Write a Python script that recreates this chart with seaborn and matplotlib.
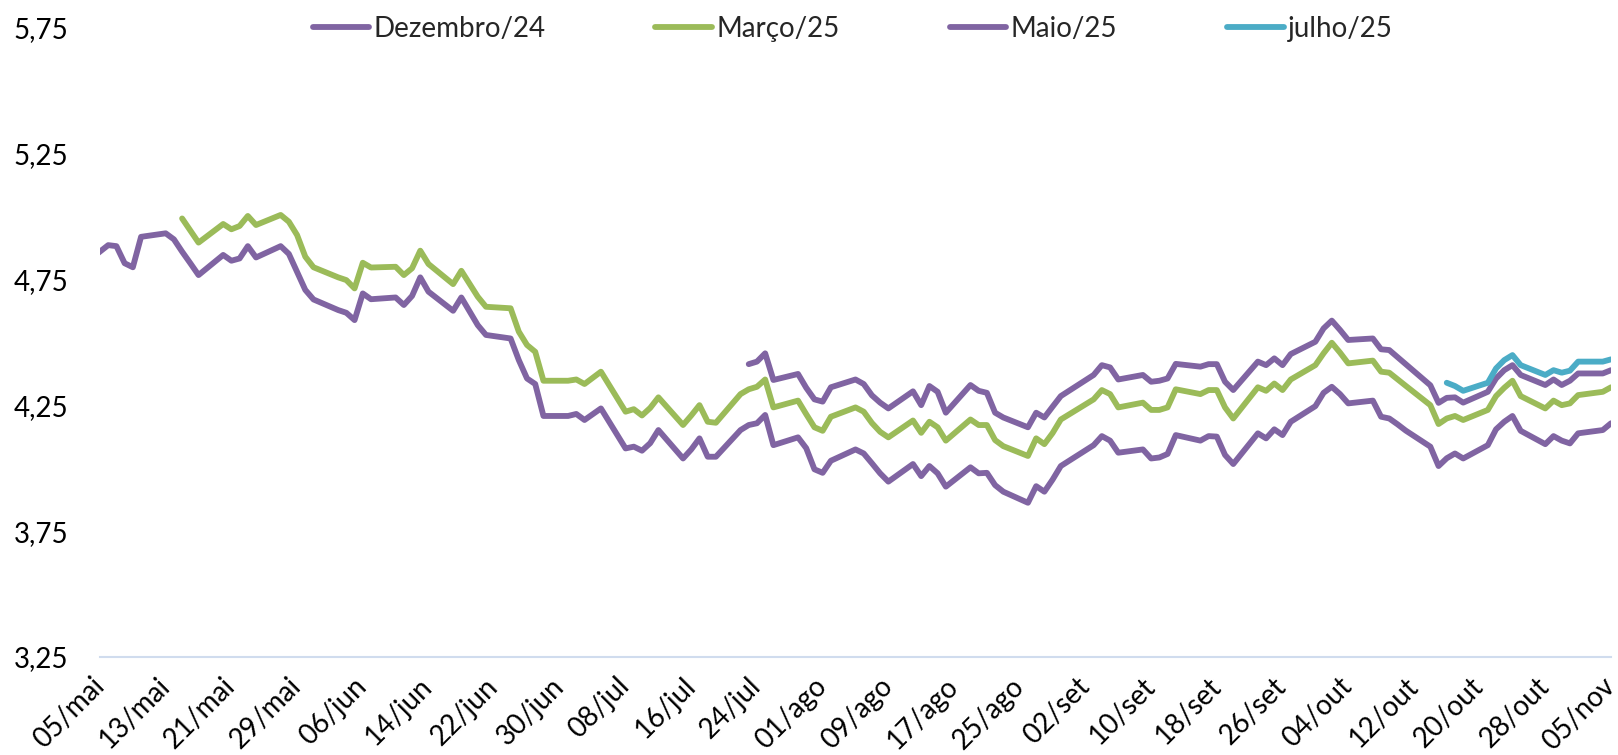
import numpy as np
import pandas as pd
import matplotlib
matplotlib.use("Agg")
import matplotlib.pyplot as plt
import seaborn as sns

# ---- data -------------------------------------------------------------
holidays = ["2024-06-19", "2024-07-04", "2024-09-02"]
first_day = "2024-05-03"

series_names = ["Dezembro/24", "Março/25", "Maio/25", "julho/25"]
series_colors = ["#8064A2", "#9BBB59", "#8064A2", "#4BACC6"]

dezembro_24 = [
    4.81,
    4.887, 4.883, 4.815, 4.799, 4.920,
    4.934, 4.910, 4.861, 4.815, 4.768,
    4.848, 4.825, 4.834, 4.883, 4.838,
    4.883, 4.852, 4.781, 4.709, 4.671,
    4.629, 4.618, 4.589, 4.695, 4.672,
    4.679, 4.649, 4.685, 4.759, 4.702,
    4.626, 4.679, 4.569, 4.530,
    4.516, 4.430, 4.357, 4.335, 4.208,
    4.208, 4.216, 4.192, 4.238,
    4.079, 4.086, 4.070, 4.100, 4.152,
    4.039, 4.075, 4.119, 4.046, 4.046,
    4.152, 4.172, 4.179, 4.212, 4.092,
    4.123, 4.080, 3.996, 3.982, 4.030,
    4.075, 4.059, 4.020, 3.980, 3.947,
    4.017, 3.969, 4.009, 3.980, 3.927,
    4.004, 3.980, 3.982, 3.933, 3.907,
    3.863, 3.929, 3.907, 3.955, 4.009,
    4.092, 4.128, 4.110, 4.062,
    4.075, 4.039, 4.043, 4.057, 4.132,
    4.110, 4.128, 4.126, 4.053, 4.017,
    4.139, 4.119, 4.155, 4.132, 4.185,
    4.247, 4.300, 4.324, 4.295, 4.258,
    4.269, 4.205, 4.198, 4.175, 4.150,
    4.086, 4.009, 4.040, 4.059, 4.039,
    4.092, 4.155, 4.185, 4.208, 4.149,
    4.096, 4.128, 4.110, 4.099, 4.139,
    4.152, 4.179,
]

marco_25 = [
    4.993, 4.945, 4.897,
    4.971, 4.950, 4.963, 5.003, 4.967,
    5.007, 4.980, 4.927, 4.841, 4.799,
    4.759, 4.748, 4.715, 4.817, 4.798,
    4.801, 4.768, 4.795, 4.865, 4.812,
    4.732, 4.785, 4.682, 4.642,
    4.636, 4.543, 4.490, 4.463, 4.348,
    4.348, 4.353, 4.335, 4.384,
    4.225, 4.235, 4.210, 4.240, 4.282,
    4.172, 4.210, 4.251, 4.185, 4.181,
    4.295, 4.314, 4.324, 4.353, 4.242,
    4.269, 4.215, 4.163, 4.149, 4.205,
    4.242, 4.225, 4.180, 4.145, 4.123,
    4.190, 4.141, 4.185, 4.163, 4.110,
    4.194, 4.172, 4.172, 4.112, 4.088,
    4.049, 4.119, 4.096, 4.140, 4.194,
    4.274, 4.311, 4.295, 4.242,
    4.261, 4.232, 4.232, 4.242, 4.314,
    4.295, 4.311, 4.311, 4.242, 4.198,
    4.322, 4.308, 4.337, 4.311, 4.353,
    4.410, 4.457, 4.499, 4.460, 4.417,
    4.428, 4.384, 4.380, 4.354, 4.328,
    4.251, 4.176, 4.198, 4.208, 4.192,
    4.232, 4.287, 4.320, 4.348, 4.287,
    4.238, 4.269, 4.251, 4.258, 4.291,
    4.304, 4.322,
]

maio_25 = [
    4.414, 4.424, 4.457, 4.351,
    4.375, 4.320, 4.274, 4.265, 4.322,
    4.353, 4.335, 4.290, 4.261, 4.238,
    4.306, 4.251, 4.327, 4.304, 4.221,
    4.331, 4.308, 4.300, 4.221, 4.202,
    4.163, 4.221, 4.202, 4.245, 4.287,
    4.371, 4.410, 4.401, 4.353,
    4.371, 4.344, 4.348, 4.357, 4.415,
    4.404, 4.414, 4.414, 4.344, 4.311,
    4.424, 4.410, 4.437, 4.410, 4.454,
    4.503, 4.556, 4.587, 4.550, 4.510,
    4.516, 4.473, 4.470, 4.442, 4.414,
    4.330, 4.260, 4.280, 4.282, 4.261,
    4.304, 4.357, 4.390, 4.410, 4.371,
    4.331, 4.353, 4.331, 4.348, 4.377,
    4.377, 4.390,
]

julho_25 = [
    4.340, 4.327, 4.308,
    4.340, 4.397, 4.430, 4.450, 4.410,
    4.371, 4.390, 4.380, 4.388, 4.424,
    4.424, 4.433,
]

y_ticks = [3.25, 3.75, 4.25, 4.75, 5.25, 5.75]
y_tick_labels = ["3,25", "3,75", "4,25", "4,75", "5,25", "5,75"]
x_tick_labels = [
    "05/mai", "13/mai", "21/mai", "29/mai", "06/jun", "14/jun", "22/jun",
    "30/jun", "08/jul", "16/jul", "24/jul", "01/ago", "09/ago", "17/ago",
    "25/ago", "02/set", "10/set", "18/set", "26/set", "04/out", "12/out",
    "20/out", "28/out", "05/nov",
]

# ---- table ------------------------------------------------------------
trade_days = pd.bdate_range("2024-05-06", "2024-11-05")
trade_days = trade_days[~trade_days.isin(pd.to_datetime(holidays))]
dates = pd.DatetimeIndex([pd.Timestamp(first_day)]).append(trade_days)

frames = []
for name, vals in zip(series_names,
                      [dezembro_24, marco_25, maio_25, julho_25]):
    frames.append(pd.DataFrame({"data": dates[-len(vals):],
                                "taxa": vals, "serie": name}))
df = pd.concat(frames, ignore_index=True)

# ---- figure -----------------------------------------------------------
sns.set_theme(style="white")
plt.rcParams["font.family"] = ["Lato", "DejaVu Sans"]
plt.rcParams["lines.solid_capstyle"] = "round"
plt.rcParams["lines.solid_joinstyle"] = "round"

fig = plt.figure(figsize=(16.18, 7.55), dpi=100)
ax = fig.add_axes([100 / 1618, 1 - 657 / 755, 1511 / 1618, 629 / 755])

palette = dict(zip(series_names, series_colors))
sns.lineplot(data=df, x="data", y="taxa", hue="serie", hue_order=series_names,
             palette=palette, linewidth=4.2, errorbar=None, ax=ax)

handles, labels = ax.get_legend_handles_labels()
ax.get_legend().remove()
for h in handles:
    h.set_linewidth(4.2)
fig.legend(handles, labels, loc="center", bbox_to_anchor=(0.527, 0.962),
           ncol=4, frameon=False, fontsize=20, handlelength=2.05,
           handletextpad=0.15, columnspacing=3.95)

ax.set_ylim(3.25, 5.75)
ax.set_xlim(pd.Timestamp("2024-05-05"), pd.Timestamp("2024-11-05"))
ax.set_yticks(y_ticks)
ax.set_yticklabels(y_tick_labels)
tick_dates = pd.date_range("2024-05-05", "2024-11-05", freq="8D")
ax.set_xticks(tick_dates)
ax.set_xticklabels(x_tick_labels, rotation=45, ha="right", va="center",
                   rotation_mode="anchor")
ax.tick_params(axis="both", length=0, labelsize=20, colors="black")
ax.tick_params(axis="y", pad=23)
ax.tick_params(axis="x", pad=18)
ax.set_xlabel("")
ax.set_ylabel("")

for side in ["top", "right", "left"]:
    ax.spines[side].set_visible(False)
ax.spines["bottom"].set_color("#D0DCEE")
ax.spines["bottom"].set_linewidth(1.5)

fig.savefig("out.png", dpi=100)
